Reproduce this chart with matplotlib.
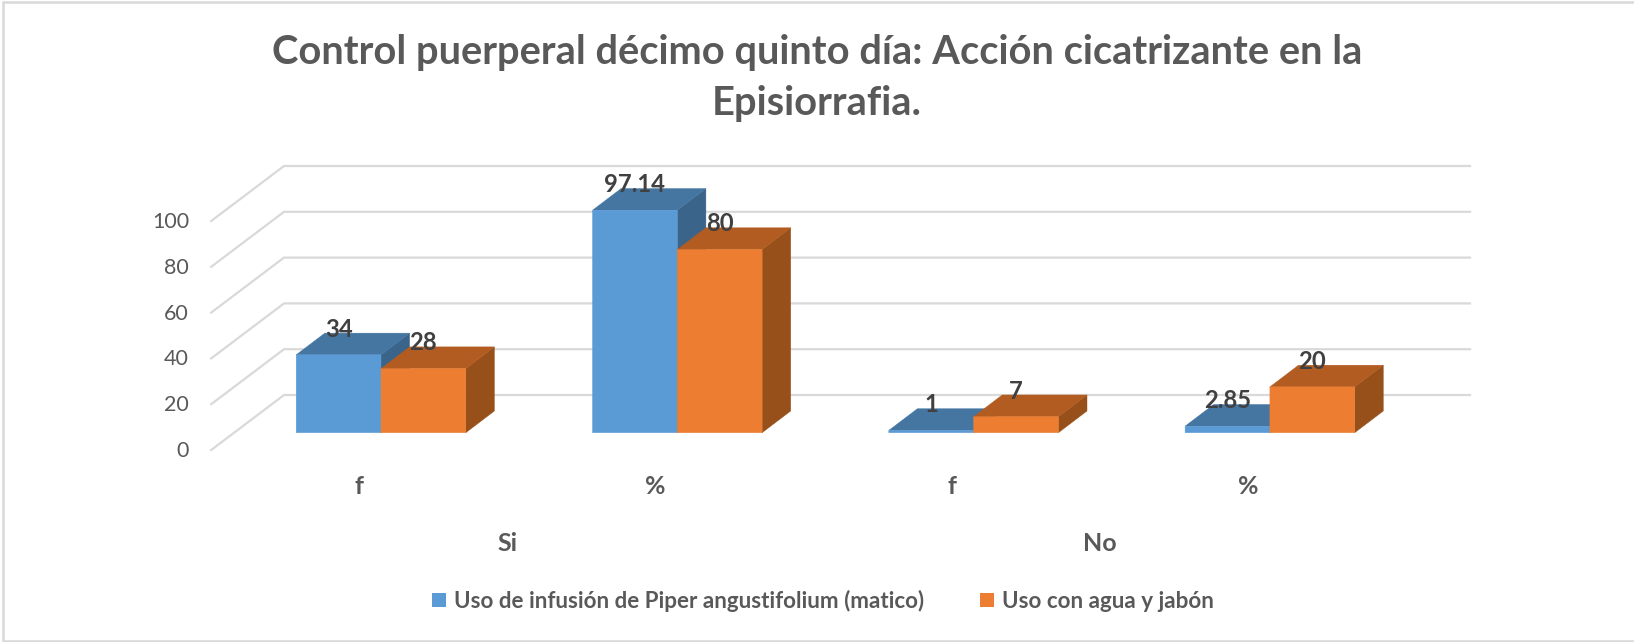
#!/usr/bin/env python3
"""Control puerperal: fake-3D clustered bars in the spreadsheet style."""

import matplotlib
matplotlib.use("Agg")
import matplotlib.pyplot as plt
from matplotlib.lines import Line2D
from matplotlib.patches import Patch, Polygon

# data
measures = ["f", "%", "f", "%"]
groups = ["Si", "No"]
series_names = ["Uso de infusión de Piper angustifolium (matico)", "Uso con agua y jabón"]
matico = [34, 97.14, 1, 2.85]
agua = [28, 80, 7, 20]
y_ticks = [0, 20, 40, 60, 80, 100]
title = "Control puerperal décimo quinto día: Acción cicatrizante en la\nEpisiorrafia."

# colours: front, top, side
BLUE = ("#5b9bd5", "#4575a1", "#3a648a")
ORANGE = ("#ed7d31", "#b35c21", "#975019")
TEXT = "#595959"
LABEL = "#404040"
GRID = "#d9d9d9"

W, H = 1634, 642
PX_X = 296.3  # pixels per category
PX_Y = 2.29  # pixels per value unit
BAR_W = 84.8 / PX_X
DEPTH_X = 28.6 / PX_X
DEPTH_Y = 21.7 / PX_Y

plt.rcParams["font.family"] = ["Lato", "DejaVu Sans"]

fig = plt.figure(figsize=(W / 100, H / 100), dpi=100)
ax = fig.add_axes([0, 0, 1, 1])
ax.set_xlim(-381 / PX_X, (W - 381) / PX_X)
ax.set_ylim((432.7 - H) / PX_Y, 432.7 / PX_Y)
ax.axis("off")

# frame is open on the right
fig.add_artist(Line2D([1, 3 / W, 3 / W, 1], [1 - 2 / H, 1 - 2 / H, 1.5 / H, 1.5 / H],
                      transform=fig.transFigure, color=GRID, linewidth=1.8,
                      solid_joinstyle="miter"))

# walls: back lines and the floor-side diagonals
front_left = (211.2 - 381) / PX_X
back_left = (284 - 381) / PX_X
back_right = (1470 - 381) / PX_X
front_shift = -17.3 / PX_Y
back_shift = 37.7 / PX_Y
for tick in y_ticks:
    ax.plot([front_left, back_left, back_right],
            [tick + front_shift, tick + back_shift, tick + back_shift],
            color=GRID, linewidth=1.6, solid_joinstyle="miter", zorder=1)
    ax.text((189 - 381) / PX_X, tick + front_shift - 0.4, str(tick), ha="right", va="center",
            fontsize=15.5, color=TEXT)

# bars, blue first so orange covers it
for offset, values, colours in [(-BAR_W, matico, BLUE), (0, agua, ORANGE)]:
    for i, value in enumerate(values):
        left = i + offset
        right = left + BAR_W
        z = 3 + i + (offset == 0) * 0.5
        ax.add_patch(Polygon([(right, 0), (right + DEPTH_X, DEPTH_Y),
                              (right + DEPTH_X, value + DEPTH_Y), (right, value)],
                             facecolor=colours[2], edgecolor=colours[2], linewidth=0.3, zorder=z))
        ax.add_patch(Polygon([(left, value), (right, value),
                              (right + DEPTH_X, value + DEPTH_Y), (left + DEPTH_X, value + DEPTH_Y)],
                             facecolor=colours[1], edgecolor=colours[1], linewidth=0.3, zorder=z))
        # snap off, or the snapped front leaves a sliver against the top face
        ax.bar(left, value, width=BAR_W, align="edge", color=colours[0],
               edgecolor=colours[0], linewidth=0.3, zorder=z + 0.1, snap=False)
        ax.text(left + BAR_W / 2, value + 11.2, str(value), ha="center", va="center",
                fontsize=17.2, fontweight="bold", color=LABEL, zorder=20)

# category labels
cat_shift = -22 / PX_X
for i, name in enumerate(measures):
    ax.text(i + cat_shift, -54 / PX_Y, name, ha="center", va="center",
            fontsize=18, fontweight="bold", color=TEXT)
for j, name in enumerate(groups):
    ax.text(2 * j + 0.5 + cat_shift, -111 / PX_Y, name, ha="center", va="center",
            fontsize=18, fontweight="bold", color=TEXT)

fig.text(817 / W, 1 - 78 / H, title, ha="center", va="center", fontsize=28.7,
         fontweight="bold", color=TEXT, linespacing=1.47)

handles = [Patch(facecolor=BLUE[0], label=series_names[0]),
           Patch(facecolor=ORANGE[0], label=series_names[1])]
fig.legend(handles=handles, loc="center", bbox_to_anchor=(823 / W, 1 - 601 / H), ncol=2,
           frameon=False, handlelength=0.62, handleheight=0.62, handletextpad=0.35,
           columnspacing=2.5, labelcolor=TEXT, prop={"weight": "bold", "size": 16.1})

fig.savefig("out.png", dpi=100)
plt.close(fig)
